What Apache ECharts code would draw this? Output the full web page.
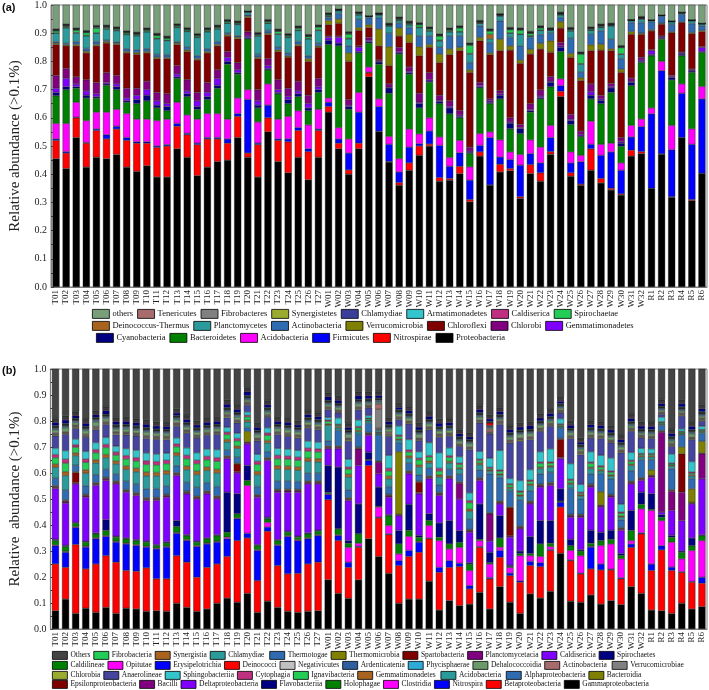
<!DOCTYPE html>
<html><head><meta charset="utf-8">
<script src="https://cdn.jsdelivr.net/npm/echarts@6/dist/echarts.min.js"></script>
<style>html,body{margin:0;padding:0;background:#fff}#c{width:709px;height:690px}</style>
</head><body><div id="c"></div>
<script>
// ---------- categories ----------
const categories = ['T01','T02','T03','T04','T05','T06','T07','T08','T09','T10','T11','T12','T13','T14','T15','T16','T17','T18','T19','T20','T21','T22','T23','T24','T25','T26','T27',
'W01','W02','W03','W04','W05','W06','W07','W08','W09','W10','W11','W12','W13','W14','W15','W16','W17','W18','W19','W20','W21','W22','W23','W24','W25','W26','W27','W28','W29','W30','W31','W32',
'R1','R2','R3','R4','R5','R6'];
const yTicks = [0,0.1,0.2,0.3,0.4,0.5,0.6,0.7,0.8,0.9,1.0];

// ---------- panel (a) values, in thousandths (T01..T27 | W01..W32 | R1..R6) ----------
const aProteobacteria = [455,420,530,425,460,455,470,425,410,430,390,390,490,460,395,425,445,450,530,460,390,550,445,405,460,380,460, 620,490,400,490,745,550,443,361,414,467,500,375,379,402,302,464,361,408,412,314,402,375,471,675,393,361,414,369,344,326,464,473, 349,471,318,529,306,402];
const aNitrospirae = [65,55,70,85,95,70,90,95,100,80,105,110,80,80,110,100,80,60,75,15,115,50,75,110,95,100,95, 20,20,15,20,15,2,2,9,26,33,7,13,6,26,8,15,1,27,8,6,32,30,9,19,12,4,76,16,6,4,21,7, 1,1,2,1,4,1];
const aFirmicutes = [5,5,2,2,5,15,10,10,5,5,5,5,10,5,5,5,5,15,10,190,5,45,5,10,10,10,5, 15,15,60,110,2,88,61,38,56,8,46,114,43,48,69,23,168,26,32,112,39,35,50,20,35,79,16,82,129,84,47,89, 264,295,167,157,196,264];
const aAcidobacteria = [55,100,53,78,60,80,60,85,80,80,90,90,75,65,85,85,85,70,55,35,75,75,70,80,60,85,70, 15,40,50,70,18,27,28,47,64,35,47,30,31,44,47,42,20,61,27,38,49,56,43,24,39,23,82,39,31,26,41,27, 21,33,86,33,55,44];
const aBacteroidetes = [98,120,50,80,50,95,70,40,55,65,45,30,85,65,35,50,90,195,85,180,50,50,90,45,50,50,60, 190,290,105,140,85,123,153,371,195,92,126,118,155,80,47,162,100,145,82,74,98,171,137,97,97,65,79,144,180,59,141,200, 185,79,161,100,200,121];
const aCyanobacteria = [12,10,5,10,5,5,10,5,15,20,10,15,5,10,10,10,10,10,5,5,10,5,5,15,10,10,10, 15,10,10,5,5,8,19,4,5,15,4,8,21,5,5,4,5,13,20,17,5,5,16,15,14,3,13,12,16,11,12,4, 5,3,8,6,5,3];
const aGemmatimonadetes = [15,30,10,15,10,5,10,10,15,20,15,10,10,10,20,15,25,15,10,5,15,10,10,10,10,15,10, 10,20,5,15,5,2,2,5,5,5,5,4,5,5,4,5,5,5,4,4,5,5,4,5,5,5,12,5,4,5,4,5, 13,4,4,4,4,14];
const aChlorobi = [45,35,25,40,40,35,30,35,25,30,30,35,30,40,30,35,30,20,25,15,40,25,35,30,35,30,30, 5,5,20,5,10,5,12,15,15,32,25,18,20,16,14,11,7,11,15,11,20,22,16,12,17,13,28,12,12,14,11,10, 4,4,4,3,3,4];
const aChloroflexi = [110,80,110,95,130,105,110,125,120,100,120,125,75,100,115,105,85,55,85,50,110,85,100,110,125,120,110, 40,45,135,55,35,50,65,40,87,133,90,116,164,212,265,147,157,142,240,217,176,145,86,51,202,179,118,161,116,232,155,81, 66,42,152,105,126,53];
const aVerrucomicrobia = [5,4,5,6,5,5,4,5,6,5,5,4,5,6,5,5,5,5,6,5,5,5,6,5,5,10,5, 15,15,30,10,10,60,67,28,29,32,10,30,20,12,9,12,6,41,15,12,17,20,41,23,14,10,21,21,7,11,10,4, 4,3,3,2,3,4];
const aActinobacteria = [5,5,10,10,10,5,5,10,10,10,10,10,5,10,10,10,10,5,5,5,10,10,10,10,10,10,10, 10,20,25,30,25,40,48,17,24,38,30,24,46,40,26,41,37,65,30,50,42,31,27,14,54,20,37,47,34,38,32,38, 29,26,27,27,32,16];
const aPlanctomycetes = [30,55,30,45,30,40,40,50,50,60,55,50,50,55,65,60,45,35,40,10,65,25,45,55,40,60,45, 5,10,25,15,5,10,25,10,10,30,18,23,15,15,30,9,13,17,15,41,5,15,10,10,26,28,14,12,47,15,7,12, 4,2,8,5,10,7];
const aDeinococcus = [1,1,2,1,1,1,2,1,1,1,2,1,1,1,1,2,1,1,1,0,1,1,2,1,1,1,2, 1,0,2,1,0,1,1,1,1,1,1,2,1,1,2,1,16,1,1,1,1,1,1,1,1,2,1,1,1,2,0,1, 0,0,1,0,1,0];
const aSpirochaetae = [7,4,9,10,17,5,4,5,4,5,10,7,5,5,5,5,5,5,4,2,4,5,9,5,7,7,10, 4,2,15,4,1,2,3,4,4,9,6,15,5,13,30,3,12,2,12,14,8,8,2,2,4,34,4,4,2,22,1,2, 1,1,1,1,1,1];
const aCaldiserica = [1,1,1,1,2,1,1,1,1,1,1,1,1,1,1,1,1,1,1,0,1,1,1,1,1,1,1, 1,1,1,1,0,0,1,1,1,1,1,1,1,1,1,1,1,1,1,1,1,1,1,1,1,1,1,1,1,1,0,1, 0,0,0,0,0,0];
const aArmatimonadetes = [2,3,2,2,3,2,2,2,2,2,2,2,2,2,2,2,2,2,2,1,2,2,2,2,2,2,2, 2,1,2,1,0,1,1,2,2,2,2,2,2,2,2,1,2,1,2,2,2,2,1,1,2,2,2,2,1,2,1,1, 1,0,1,1,1,1];
const aChlamydiae = [1,1,1,1,1,1,1,1,1,1,1,1,1,1,1,1,1,1,1,0,1,1,1,1,1,1,1, 1,1,2,1,0,1,1,1,1,1,1,1,1,1,1,1,1,1,1,1,1,1,1,1,1,1,1,1,1,1,1,1, 0,0,0,0,0,0];
const aSynergistetes = [1,1,1,1,1,1,1,1,1,1,1,1,1,1,1,1,1,1,1,0,1,1,1,1,1,1,1, 1,0,1,1,0,0,1,1,1,1,1,1,1,1,1,1,1,0,1,1,1,1,1,1,1,1,1,1,1,1,0,1, 0,0,0,0,0,0];
const aFibrobacteres = [1,1,1,1,1,1,1,1,1,1,1,1,1,1,1,1,1,1,1,0,1,1,1,1,1,1,1, 1,0,1,1,0,1,1,1,1,1,1,1,1,1,1,1,1,1,1,1,1,1,1,1,1,1,1,1,1,1,0,1, 0,0,0,0,0,0];
const aTenericutes = [1,1,1,1,1,1,1,1,1,1,1,1,1,1,1,1,1,1,1,0,1,1,1,1,1,1,1, 1,0,1,0,0,1,1,1,1,1,1,1,1,1,1,1,1,1,1,1,1,1,1,1,1,1,1,1,1,1,0,1, 0,0,0,0,0,0];
const aOthers = [95,78,93,102,85,82,88,102,108,92,112,120,77,92,112,92,82,62,68,30,108,62,98,112,85,115,82, 40,25,105,35,48,40,76,55,70,73,88,114,92,84,146,66,90,43,90,92,104,84,92,37,92,178,88,78,76,155,61,52, 61,45,66,34,61,72];

// ---------- panel (b) values, in thousandths ----------
const bGammaproteobacteria = [70,115,60,80,64,83,60,80,77,68,70,68,99,83,68,77,99,119,103,137,64,107,83,68,64,68,70, 189,137,118,189,347,279,214,99,115,115,184,73,109,90,96,141,77,163,103,60,135,119,145,291,107,103,131,96,109,94,163,137, 73,70,60,99,77,86];
const bBetaproteobacteria = [180,122,265,151,186,199,197,145,145,167,123,125,183,174,131,160,151,160,237,213,122,269,161,144,150,182,187, 308,203,119,125,282,148,149,145,164,180,163,145,128,150,58,173,116,113,102,120,109,121,157,178,156,109,100,131,118,99,151,229, 152,234,165,119,103,90];
const bNitrospira = [70,58,65,84,97,74,77,102,99,80,115,122,86,83,118,90,84,68,84,18,116,16,77,144,126,97,102, 20,19,20,4,19,3,3,19,23,39,3,19,26,13,13,3,5,26,10,5,16,15,3,19,3,3,84,23,3,4,13,4, 25,16,13,2,3,23];
const bClostridia = [3,3,3,3,3,3,3,3,3,3,3,3,3,3,3,3,3,6,3,184,3,18,3,3,3,3,3, 3,3,57,12,2,39,32,26,54,3,48,103,45,61,58,23,52,13,22,97,22,24,12,2,36,67,3,71,97,73,13,92, 206,97,96,50,119,141];
const bHolophagae = [17,19,14,16,16,20,16,17,16,16,10,13,23,16,14,17,22,19,16,19,16,14,16,13,10,16,14, 5,23,16,36,2,3,38,38,23,16,19,13,19,19,25,5,5,35,3,8,8,48,13,2,18,18,12,19,18,13,39,18, 4,13,19,25,18,19];
const bFlavobacteriia = [5,5,3,4,4,41,4,3,4,4,4,4,23,4,4,3,4,154,77,58,4,6,4,4,4,4,4, 104,238,10,115,28,74,4,52,101,7,26,55,90,45,5,136,40,86,5,10,65,90,87,47,25,5,50,32,35,7,77,46, 60,10,7,5,30,3];
const bDeltaproteobacteria = [195,162,148,169,182,151,201,176,169,156,169,172,173,157,162,170,137,129,80,83,182,218,182,150,169,188,178, 64,70,154,148,65,51,67,57,117,160,135,106,161,122,117,90,43,45,108,85,126,129,135,116,85,125,166,97,127,89,102,45, 64,10,96,117,131,216];
const bBacilli = [5,6,4,5,5,6,5,4,5,5,6,5,5,4,5,5,6,5,5,5,4,5,5,6,5,5,5, 5,5,5,64,5,45,5,3,5,5,5,5,5,60,5,5,105,5,5,5,5,5,5,5,5,5,5,5,5,5,5,5, 5,307,74,109,3,96];
const bEpsilonproteobacteria = [3,3,40,3,3,3,3,3,3,3,3,3,3,3,3,3,3,3,30,3,3,3,3,3,3,3,3, 3,3,3,3,3,2,3,2,3,40,3,3,3,3,3,3,2,3,109,3,3,3,3,70,3,3,3,3,3,3,3,3, 3,3,3,148,3,3];
const bBacteroidia = [3,3,3,3,3,3,3,3,3,3,3,3,3,3,3,3,3,3,3,40,3,3,3,3,3,3,3, 3,3,3,3,3,2,3,241,3,3,3,3,3,3,3,3,2,3,3,3,3,3,3,3,3,3,3,51,3,3,3,3, 20,3,3,26,52,45];
const bAlphaproteobacteria = [29,38,25,33,31,31,27,32,33,34,34,32,27,34,34,32,36,22,23,15,31,23,32,31,30,31,30, 20,60,30,50,35,100,30,35,30,25,30,30,25,30,40,30,150,90,60,100,40,40,40,40,100,60,40,70,60,30,40,70, 40,20,80,45,40,30];
const bAcidobacteria = [42,56,37,48,45,45,39,46,48,50,49,46,39,49,49,47,52,32,34,22,46,34,46,45,44,45,44, 60,10,50,10,10,4,30,10,20,30,20,30,25,20,30,20,10,10,10,15,20,20,20,5,15,10,20,10,10,10,20,10, 10,5,10,5,10,5];
const bGemmatimonadetes = [12,15,10,13,12,12,11,13,13,14,13,13,11,13,13,13,14,9,9,6,12,9,13,12,12,12,12, 5,5,10,5,3,2,10,4,8,8,8,8,6,5,8,6,4,5,5,5,6,5,5,3,5,5,5,5,5,5,5,5, 5,2,4,3,5,3];
const bIgnavibacteria = [25,33,22,29,27,27,23,27,28,30,29,27,23,29,29,28,31,19,20,13,27,20,27,27,26,27,26, 10,5,20,10,5,4,20,10,15,20,15,15,15,12,25,10,6,10,10,10,10,15,10,5,10,5,15,10,10,10,10,5, 5,5,5,5,5,5];
const bCytophagia = [12,15,10,13,12,12,11,13,13,14,13,13,11,13,13,13,14,9,9,6,12,9,13,12,12,12,12, 5,3,8,5,2,2,10,5,8,6,5,10,7,5,8,5,5,5,4,5,5,5,5,3,5,5,5,5,5,5,5,3, 3,2,3,2,5,2];
const bSphingobacteriia = [25,33,22,29,27,27,23,27,29,30,29,27,23,29,29,28,31,19,20,13,27,20,27,27,26,27,26, 10,25,30,25,10,5,50,35,40,25,50,60,30,25,30,30,35,75,20,40,40,40,50,20,60,30,40,40,50,30,30,20, 18,18,35,10,40,13];
const bAnaerolineae = [47,63,41,55,50,50,45,53,55,56,57,53,45,57,57,54,59,37,40,26,52,41,53,50,48,50,48, 30,20,70,40,30,5,74,25,60,43,50,60,45,40,166,110,94,100,137,152,116,79,87,23,97,115,53,65,58,198,82,40, 40,10,30,49,85,20];
const bChlorobia = [4,4,5,3,4,4,5,4,3,4,4,5,4,4,3,4,4,5,4,4,4,3,4,4,5,4,4, 4,3,5,4,3,4,5,4,4,3,4,5,4,3,4,4,3,4,4,5,4,4,4,3,4,5,4,4,3,4,4,3, 3,3,4,4,3,4];
const bVerrucomicrobiae = [3,2,3,3,4,3,3,2,3,3,3,3,4,3,3,2,3,3,3,4,3,3,3,2,3,3,3, 3,3,3,3,3,73,4,3,3,3,3,3,3,3,3,3,3,4,3,3,3,3,3,3,3,3,3,3,3,3,3,3, 3,3,3,3,3,3];
const bActinobacteria = [4,4,4,5,4,4,3,4,4,4,4,4,5,4,4,4,3,4,4,4,4,4,4,5,4,4,4, 4,4,4,4,4,20,6,4,4,4,4,4,4,4,4,4,10,5,4,4,4,4,4,4,4,4,4,4,4,4,4,4, 4,4,4,4,4,4];
const bDehalococcoidia = [12,15,10,14,18,12,10,13,12,14,12,11,12,13,12,11,12,10,12,8,13,10,12,14,12,12,11, 8,10,14,12,8,6,12,10,12,14,12,12,12,10,12,12,6,8,12,14,12,12,10,8,12,10,12,10,12,12,10,8, 8,6,10,8,12,8];
const bPhycisphaerae = [4,4,4,4,4,4,4,5,4,4,4,4,4,4,4,4,4,4,5,4,4,4,4,4,4,4,4, 4,4,4,4,4,4,4,4,4,4,4,4,5,4,4,4,4,4,4,4,4,4,4,4,4,4,4,4,4,4,4,4, 4,4,4,4,4,4];
const bArdenticatenia = [4,4,4,4,5,4,4,4,4,4,4,4,4,4,4,4,4,4,4,4,4,4,4,4,4,5,4, 4,4,4,4,4,4,4,4,4,4,4,4,4,4,4,4,4,4,4,4,4,4,4,4,4,4,4,4,4,4,4,4, 4,4,4,4,4,4];
const bNegativicutes = [2,2,2,2,2,2,2,2,2,2,2,2,2,2,2,2,2,2,2,2,2,2,2,2,2,2,2, 2,2,2,2,2,3,2,2,2,2,2,2,2,2,2,2,2,2,2,2,2,2,2,2,2,2,2,2,2,2,2,2, 2,2,2,2,2,2];
const bDeinococci = [1,1,1,1,1,1,1,1,1,1,1,1,1,1,1,1,1,1,1,1,1,1,1,1,1,1,1, 1,1,1,1,1,1,1,1,1,1,1,1,1,1,1,1,10,1,1,1,1,1,1,1,1,1,1,1,1,1,1,1, 1,1,1,1,1,1];
const bErysipelotrichia = [1,1,1,1,1,1,1,1,1,1,1,1,1,1,1,1,1,1,1,1,1,1,1,1,1,1,1, 1,1,1,1,1,1,1,1,1,1,1,1,1,1,1,1,1,1,1,1,1,1,1,1,1,1,1,1,1,1,1,1, 1,1,1,1,1,1];
const bOpitutae = [1,1,1,1,1,1,1,1,1,1,1,1,1,1,1,1,1,1,1,1,1,1,1,1,1,1,1, 1,1,1,1,1,1,1,1,1,1,1,1,1,1,1,1,1,1,1,1,1,1,1,1,1,1,1,1,1,1,1,1, 1,1,1,1,1,1];
const bCaldilineae = [3,3,3,3,3,3,3,3,3,3,3,3,3,3,3,3,3,3,3,3,3,3,3,3,3,3,3, 3,3,3,3,3,3,3,3,3,3,3,3,3,3,3,3,3,3,3,3,3,3,3,3,3,3,3,3,3,3,3,3, 3,3,3,3,3,3];
const bSpirochaetes = [12,14,10,12,10,14,12,12,12,14,12,12,10,12,12,12,12,14,12,16,12,12,12,12,10,12,12, 14,12,10,14,12,10,12,10,12,12,12,14,12,12,10,12,10,12,12,12,14,12,12,10,12,10,12,12,12,12,12,12, 12,10,12,12,12,12];
const bCaldisericia = [2,2,2,2,2,2,2,2,2,2,2,2,2,2,2,2,2,2,2,2,2,2,2,2,2,2,2, 2,2,2,2,2,2,2,2,2,2,2,2,2,2,2,2,2,2,2,2,2,2,2,2,2,2,2,2,2,2,2,2, 2,2,2,2,2,2];
const bPlanctomycetacia = [3,3,3,3,3,3,3,3,3,3,3,3,3,3,3,3,3,3,3,3,3,3,3,3,3,3,3, 3,3,3,3,3,3,3,3,3,3,3,3,3,3,3,3,3,3,3,3,3,3,3,3,3,3,3,3,3,3,3,3, 3,3,3,3,3,3];
const bSpartobacteria = [2,2,2,2,2,2,2,2,2,2,2,2,2,2,2,2,2,2,2,2,2,2,2,2,2,2,2, 2,2,2,2,2,2,2,2,2,2,2,2,2,2,2,2,2,2,2,2,2,2,2,2,2,2,2,2,2,2,2,2, 2,2,2,2,2,2];
const bThermomicrobia = [2,2,2,2,2,2,2,2,2,2,2,2,2,2,2,2,2,2,2,2,2,2,2,2,2,2,2, 2,2,2,2,2,2,2,2,2,2,2,2,2,2,2,2,2,2,2,2,2,2,2,2,2,2,2,2,2,2,2,2, 2,2,2,2,2,2];
const bThermotogae = [2,2,2,2,2,2,2,2,2,2,2,2,2,2,2,2,2,2,2,2,2,2,2,2,2,2,2, 2,2,2,2,2,2,2,2,2,2,2,2,2,2,2,2,2,2,2,2,2,2,2,2,2,2,2,2,2,2,2,2, 2,2,2,2,2,2];
const bChlamydiae = [2,2,2,2,2,2,2,2,2,2,2,2,2,2,2,2,2,2,2,2,2,2,2,2,2,2,2, 2,2,2,2,2,2,2,2,2,2,2,2,2,2,2,2,2,2,2,2,2,2,2,2,2,2,2,2,2,2,2,2, 2,2,2,2,2,2];
const bSynergistia = [1,1,1,1,1,1,1,1,1,1,1,1,1,1,1,1,1,1,1,1,1,1,1,1,1,1,1, 1,1,1,1,1,1,1,1,1,1,1,1,1,1,1,1,1,1,1,1,1,1,1,1,1,1,1,1,1,1,1,1, 1,1,1,1,1,1];
const bFibrobacteria = [2,2,2,2,2,2,2,2,2,2,2,2,2,2,2,2,2,2,2,2,2,2,2,2,2,2,2, 2,2,2,2,2,2,2,2,2,2,2,2,2,2,2,2,2,2,2,2,2,2,2,2,2,2,2,2,2,2,2,2, 2,2,2,2,2,2];
const bOthers = [200,195,170,205,176,157,195,195,200,210,214,214,163,188,208,197,195,130,150,82,218,128,195,201,208,169,176, 99,111,220,99,92,92,201,137,154,218,176,205,201,240,253,150,176,156,227,220,214,182,163,111,210,272,208,210,227,265,182,208, 210,118,240,124,214,143];

// ---------- series definitions (bottom -> top) ----------
const seriesA = [
 ['Proteobacteria',aProteobacteria],['Nitrospirae',aNitrospirae],['Firmicutes',aFirmicutes],['Acidobacteria',aAcidobacteria],
 ['Bacteroidetes',aBacteroidetes],['Cyanobacteria',aCyanobacteria],['Gemmatimonadetes',aGemmatimonadetes],['Chlorobi',aChlorobi],
 ['Chloroflexi',aChloroflexi],['Verrucomicrobia',aVerrucomicrobia],['Actinobacteria',aActinobacteria],['Planctomycetes',aPlanctomycetes],
 ['Deinococcus-Thermus',aDeinococcus],['Spirochaetae',aSpirochaetae],['Caldiserica',aCaldiserica],['Armatimonadetes',aArmatimonadetes],
 ['Chlamydiae',aChlamydiae],['Synergistetes',aSynergistetes],['Fibrobacteres',aFibrobacteres],['Tenericutes',aTenericutes],['others',aOthers]];
const seriesB = [
 ['Gammaproteobacteria',bGammaproteobacteria],['Betaproteobacteria',bBetaproteobacteria],['Nitrospira',bNitrospira],['Clostridia',bClostridia],
 ['Holophagae',bHolophagae],['Flavobacteriia',bFlavobacteriia],['Deltaproteobacteria',bDeltaproteobacteria],['Bacilli',bBacilli],
 ['Epsilonproteobacteria',bEpsilonproteobacteria],['Bacteroidia',bBacteroidia],['Alphaproteobacteria',bAlphaproteobacteria],
 ['Acidobacteria ',bAcidobacteria],['Gemmatimonadetes ',bGemmatimonadetes],['Ignavibacteria',bIgnavibacteria],['Cytophagia',bCytophagia],
 ['Sphingobacteriia',bSphingobacteriia],['Anaerolineae',bAnaerolineae],['Chlorobia',bChlorobia],['Verrucomicrobiae',bVerrucomicrobiae],
 ['Actinobacteria ',bActinobacteria],['Dehalococcoidia',bDehalococcoidia],['Phycisphaerae',bPhycisphaerae],['Ardenticatenia',bArdenticatenia],
 ['Negativicutes',bNegativicutes],['Deinococci',bDeinococci],['Erysipelotrichia',bErysipelotrichia],['Opitutae',bOpitutae],
 ['Caldilineae',bCaldilineae],['Spirochaetes',bSpirochaetes],['Caldisericia',bCaldisericia],['Planctomycetacia',bPlanctomycetacia],
 ['Spartobacteria',bSpartobacteria],['Thermomicrobia',bThermomicrobia],['Thermotogae',bThermotogae],['Chlamydiae ',bChlamydiae],
 ['Synergistia',bSynergistia],['Fibrobacteria',bFibrobacteria],['Others',bOthers]];

// ---------- styles ----------
const colorA = {'Proteobacteria':'#000000','Nitrospirae':'#ff0000','Firmicutes':'#0000ff','Acidobacteria':'#ff00ff','Bacteroidetes':'#008000',
 'Cyanobacteria':'#000080','Gemmatimonadetes':'#8000ff','Chlorobi':'#800080','Chloroflexi':'#800000','Verrucomicrobia':'#808000',
 'Actinobacteria':'#2f6bb0','Planctomycetes':'#2a9a9a','Deinococcus-Thermus':'#a8641e','Spirochaetae':'#22cc55','Caldiserica':'#c03080',
 'Armatimonadetes':'#33c4cc','Chlamydiae':'#3a3f9a','Synergistetes':'#9aab2f','Fibrobacteres':'#808080','Tenericutes':'#a86b6b','others':'#789e7a'};
const colorB = {'Gammaproteobacteria':'#000000','Betaproteobacteria':'#ff0000','Nitrospira':'#0000ff','Clostridia':'#ff00ff','Holophagae':'#008000',
 'Flavobacteriia':'#000080','Deltaproteobacteria':'#8000ff','Bacilli':'#800080','Epsilonproteobacteria':'#800000','Bacteroidia':'#808000',
 'Alphaproteobacteria':'#2f6bb0','Acidobacteria ':'#2a9a9a','Gemmatimonadetes ':'#a8641e','Ignavibacteria':'#22cc55','Cytophagia':'#c03080',
 'Sphingobacteriia':'#33c4cc','Anaerolineae':'#4545a0','Chlorobia':'#9aab2f','Verrucomicrobiae':'#808080','Actinobacteria ':'#a86b6b',
 'Dehalococcoidia':'#6a9a6a','Phycisphaerae':'#2faad8','Ardenticatenia':'#2f5f9f','Negativicutes':'#c0c0c0','Deinococci':'#ff0000',
 'Erysipelotrichia':'#0000ff','Opitutae':'#ff00ff','Caldilineae':'#008000','Spirochaetes':'#000080','Caldisericia':'#8000ff',
 'Planctomycetacia':'#800080','Spartobacteria':'#800000','Thermomicrobia':'#808000','Thermotogae':'#2f6bb0','Chlamydiae ':'#2a9a9a',
 'Synergistia':'#a8641e','Fibrobacteria':'#22cc55','Others':'#444444'};

const legendRowsA = [
 ['others','Tenericutes','Fibrobacteres','Synergistetes','Chlamydiae','Armatimonadetes','Caldiserica','Spirochaetae'],
 ['Deinococcus-Thermus','Planctomycetes','Actinobacteria','Verrucomicrobia','Chloroflexi','Chlorobi','Gemmatimonadetes'],
 ['Cyanobacteria','Bacteroidetes','Acidobacteria','Firmicutes','Nitrospirae','Proteobacteria']];
const legendRowsB = [
 ['Others','Fibrobacteria','Synergistia','Chlamydiae ','Thermotogae','Thermomicrobia','Spartobacteria','Planctomycetacia','Caldisericia','Spirochaetes'],
 ['Caldilineae','Opitutae','Erysipelotrichia','Deinococci','Negativicutes','Ardenticatenia','Phycisphaerae','Dehalococcoidia','Actinobacteria ','Verrucomicrobiae'],
 ['Chlorobia','Anaerolineae','Sphingobacteriia','Cytophagia','Ignavibacteria','Gemmatimonadetes ','Acidobacteria ','Alphaproteobacteria','Bacteroidia'],
 ['Epsilonproteobacteria','Bacilli','Deltaproteobacteria','Flavobacteriia','Holophagae','Clostridia','Nitrospira','Betaproteobacteria','Gammaproteobacteria']];

const SERIF = 'Liberation Serif, Times New Roman, serif';
const chart = echarts.init(document.getElementById('c'), null, {renderer:'canvas'});

function mkSeries(list, colors, idx, stack){
  return list.map(([name, vals]) => ({
    name, type:'bar', stack, xAxisIndex:idx, yAxisIndex:idx,
    barCategoryGap:'30%', clip:true, silent:true, animation:false,
    itemStyle:{color:colors[name], borderColor:'#1a1a1a', borderWidth:0.4},
    data: vals.map(v => v/1000)
  }));
}
function xAx(idx){
  return {type:'category', gridIndex:idx, data:categories,
    axisLine:{lineStyle:{color:'#808080', width:1}}, axisTick:{show:false},
    axisLabel:{rotate:90, interval:0, fontFamily:SERIF, fontSize:9, color:'#222', margin:3}};
}
function yAx(idx, gap, nm){
  return {type:'value', gridIndex:idx, min:0, max:1, interval:0.1,
    name:nm, nameLocation:'middle', nameGap:gap,
    nameTextStyle:{fontFamily:SERIF, fontSize:15, color:'#222'},
    axisLine:{show:true, lineStyle:{color:'#808080', width:1}},
    axisTick:{show:true, inside:true, length:3, lineStyle:{color:'#444'}},
    minorTick:{show:true, splitNumber:2, length:2, lineStyle:{color:'#444'}},
    splitLine:{show:false},
    axisLabel:{fontFamily:SERIF, fontSize:10, color:'#222', margin:4, formatter:v=>v.toFixed(1)}};
}
function legends(rows, left, tops, fs, iw, ih, gap){
  return rows.map((r,i)=>({data:r, left:left[i], top:tops[i], orient:'horizontal', selectedMode:false,
    itemWidth:iw, itemHeight:ih, itemGap:gap, padding:0, icon:'rect',
    itemStyle:{borderColor:'#000', borderWidth:0.8},
    textStyle:{fontFamily:SERIF, fontSize:fs, color:'#111', padding:[0,0,0,-2]}}));
}

const option = {
  animation:false,
  grid:[
    {left:41, right:2, top:4, height:283, show:true, borderColor:'#808080', borderWidth:1, backgroundColor:'#fff'},
    {left:36, right:2, top:369, height:260, show:true, borderColor:'#808080', borderWidth:1, backgroundColor:'#fff'}],
  xAxis:[xAx(0), xAx(1)],
  yAxis:[yAx(0, 28, 'Relative abundance (>0.1%)'), yAx(1, 24, 'Relative  abundance (>0.1%)')],
  legend:[
    ...legends(legendRowsA, [92,92,96], [309,321,333], 8.5, 17, 9, 4),
    ...legends(legendRowsB, [52,52,52,52], [651,661,671,680], 7.5, 15, 8, 3)],
  graphic:[
    {type:'text', left:2, top:2, style:{text:'(a)', font:'bold 11px Arial, Liberation Sans, sans-serif', fill:'#111'}},
    {type:'text', left:2, top:365, style:{text:'(b)', font:'bold 11px Arial, Liberation Sans, sans-serif', fill:'#111'}}],
  series:[...mkSeries(seriesA, colorA, 0, 'a'), ...mkSeries(seriesB, colorB, 1, 'b')]
};
const bad = [...seriesA, ...seriesB].filter(s => s[1].length !== categories.length).map(s=>s[0]+':'+s[1].length);
if (bad.length) option.graphic.push({type:'text', left:200, top:150, style:{text:'LEN '+bad.join(' '), font:'14px sans-serif', fill:'red'}});
chart.setOption(option);
</script></body></html>
